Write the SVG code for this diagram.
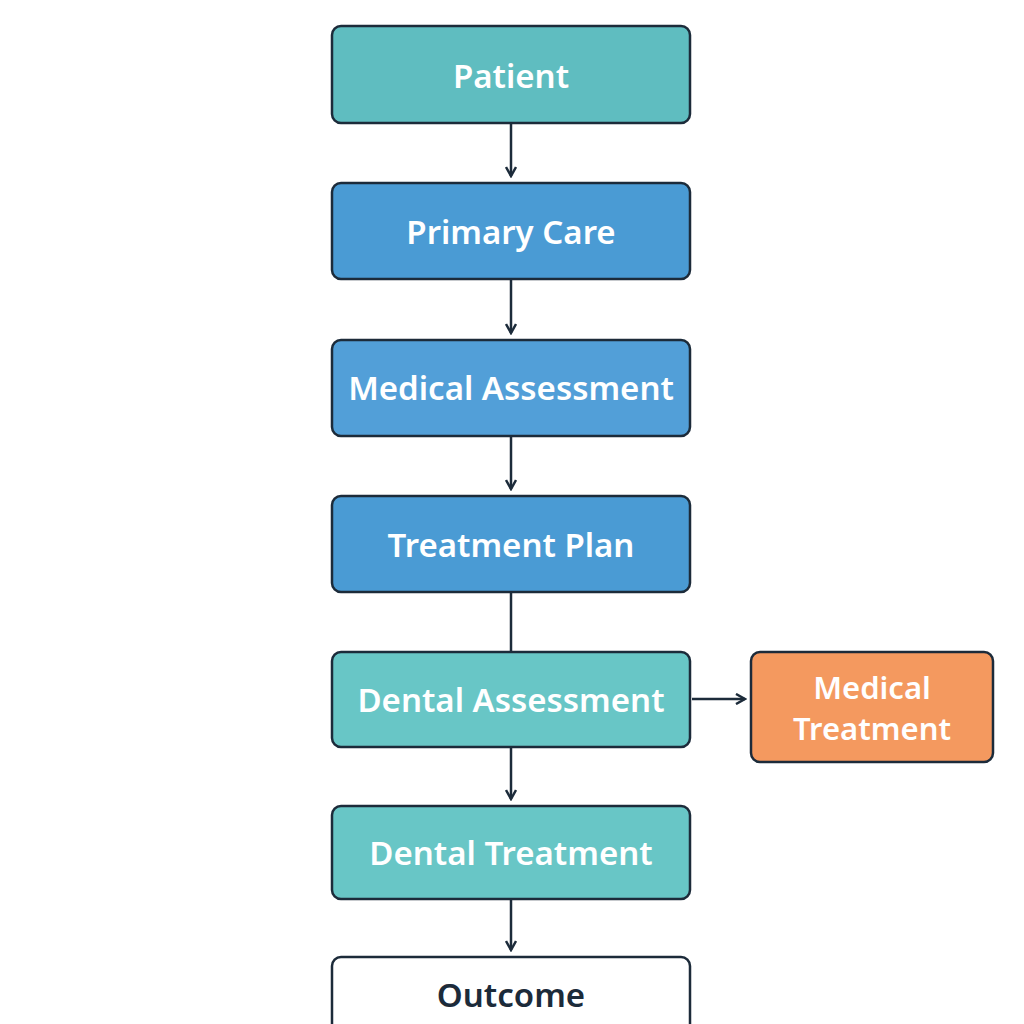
<svg xmlns="http://www.w3.org/2000/svg" width="1024" height="1024" viewBox="0 0 1024 1024">
<style>
.n{stroke:#1c2b3a;stroke-width:2.5}
text{font-family:"Noto Sans","Open Sans",sans-serif;font-size:33px;font-weight:600;fill:#fff;text-anchor:middle;dominant-baseline:central}
.s{font-size:31px}
.c{stroke:#1c2b3a;stroke-width:2.5;fill:none}
</style>
<defs><marker id="a" markerWidth="12" markerHeight="12" refX="10" refY="6" orient="auto" markerUnits="userSpaceOnUse"><path d="M1,1 L10,6 L1,11" fill="none" stroke="#1c2b3a" stroke-width="2.5"/></marker></defs>
<rect width="1024" height="1024" fill="#fff"/>
<g id="connectors">
<line class="c" x1="511" y1="124" x2="511" y2="176" marker-end="url(#a)"/>
<line class="c" x1="511" y1="280" x2="511" y2="333" marker-end="url(#a)"/>
<line class="c" x1="511" y1="437" x2="511" y2="489" marker-end="url(#a)"/>
<line class="c" x1="511" y1="593" x2="511" y2="652"/>
<line class="c" x1="511" y1="748" x2="511" y2="799" marker-end="url(#a)"/>
<line class="c" x1="511" y1="900" x2="511" y2="950" marker-end="url(#a)"/>
<line class="c" x1="692" y1="699" x2="745" y2="699" marker-end="url(#a)"/>
</g>
<g id="patient"><rect class="n" x="332" y="26" width="358" height="97" rx="9" fill="#5fbdc0"/><text x="511" y="75">Patient</text></g>
<g id="primary"><rect class="n" x="332" y="183" width="358" height="96" rx="9" fill="#4a9bd4"/><text x="511" y="231">Primary Care</text></g>
<g id="medassess"><rect class="n" x="332" y="340" width="358" height="96" rx="9" fill="#529fd8"/><text x="511" y="387">Medical Assessment</text></g>
<g id="plan"><rect class="n" x="332" y="496" width="358" height="96" rx="9" fill="#4a9bd4"/><text x="511" y="544">Treatment Plan</text></g>
<g id="dentassess"><rect class="n" x="332" y="652" width="358" height="95" rx="9" fill="#68c6c6"/><text x="511" y="699">Dental Assessment</text></g>
<g id="medtreat"><rect class="n" x="751" y="652" width="242" height="110" rx="9" fill="#f4995f"/><text class="s" x="872" y="687">Medical</text><text class="s" x="872" y="728">Treatment</text></g>
<g id="denttreat"><rect class="n" x="332" y="806" width="358" height="93" rx="9" fill="#68c6c6"/><text x="511" y="852">Dental Treatment</text></g>
<g id="outcome"><rect class="n" x="332" y="957" width="358" height="80" rx="9" fill="#fff"/><text x="511" y="994" style="fill:#1c2b3a">Outcome</text></g>
</svg>
